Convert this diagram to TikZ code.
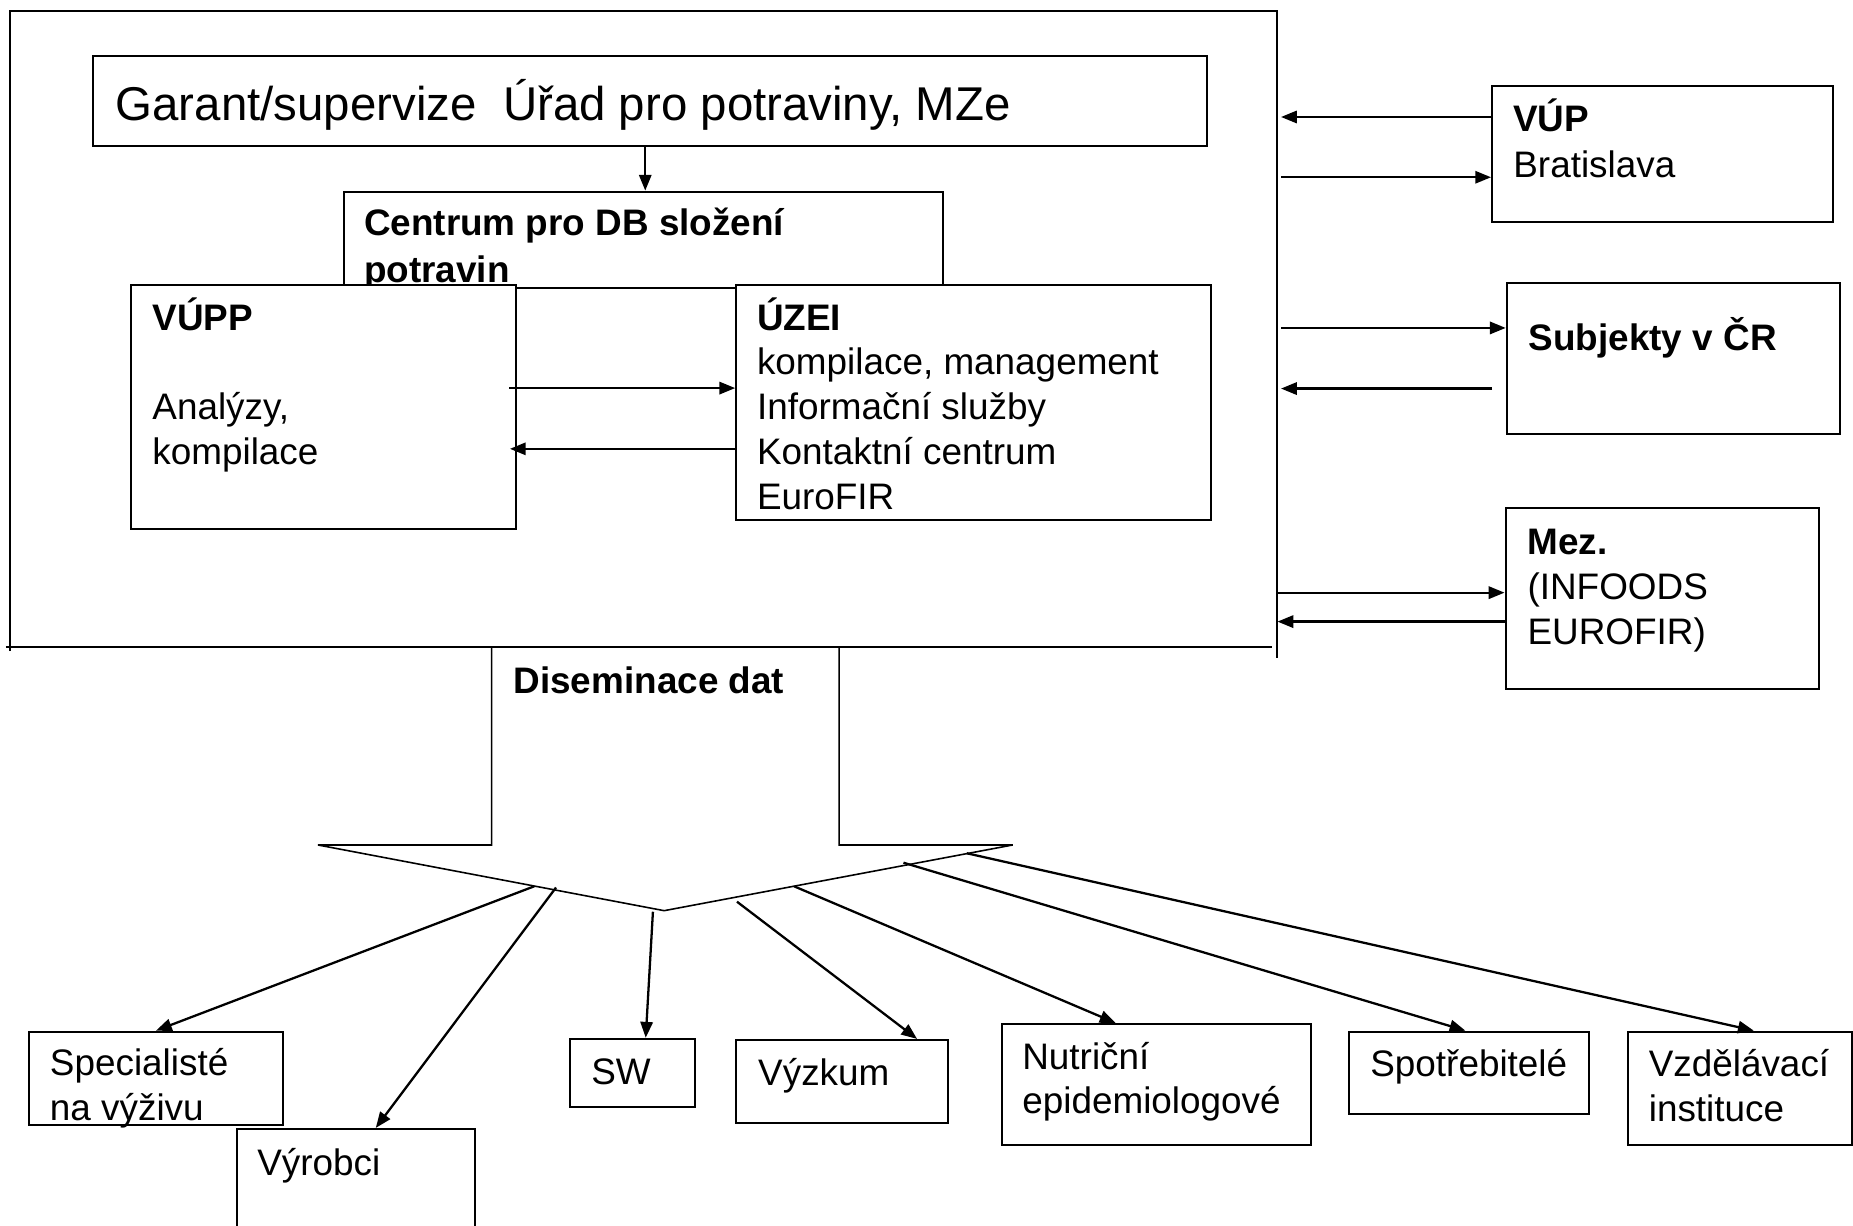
\documentclass[tikz,border=0pt]{standalone}
\usepackage{fontspec}
\setmainfont{Liberation Sans}
\usetikzlibrary{arrows.meta,fit}
\begin{document}
\begin{tikzpicture}[x=0.011818cm,y=-0.011818cm,
  box/.style={draw, line width=0.6pt, fill=white, inner sep=0pt},
  txt/.style={anchor=base west, inner sep=0pt, font=\fontsize{10.5}{12.6}\selectfont},
  btxt/.style={anchor=base west, inner sep=0pt, font=\fontsize{10.5}{12.6}\selectfont\bfseries},
  arr/.style={line width=0.65pt, -{Triangle[length=4.5pt,width=3.5pt]}},
  framel/.style={line width=0.55pt},
  blk/.style={line width=0.45pt, line join=miter}]

\fill[white] (0,0) rectangle (1568,1037);
\useasboundingbox (0,0) rectangle (1568,1037);

% outer frame
\coordinate (fTL) at (8.5,9);
\coordinate (fTR) at (1080.6,9);
\coordinate (fBR) at (1080.6,557);
\coordinate (fBL) at (8.5,551);
\draw[framel] (fBL) -- (fTL) -- (fTR) -- (fBR);
\coordinate (bL) at (5,547.5);
\coordinate (bR) at (1076,547.5);
\draw[framel] (bL) -- (bR);

% Garant
\node[box, fit={(78.4,47.7) (1021,123.5)}] (garant) {};
\node[anchor=base west, inner sep=0pt, font=\fontsize{13.5}{16}\selectfont] (tgarant) at (97.3,102) {Garant/supervize\ \ Úřad pro potraviny, MZe};

% Centrum
\node[box, fit={(291,162.2) (797.8,243.4)}] (centrum) {};
\node[btxt] (tcen1) at (307.5,199) {Centrum pro DB složení};
\node[btxt] (tcen2) at (307.5,239) {potravin};
\coordinate (xg) at (546,0);
\draw[arr] (garant.south -| xg) -- (centrum.north -| xg);

% VUPP and UZEI
\node[box, fit={(110.9,241) (436.4,447.7)}] (vupp) {};
\node[btxt] (tvupp1) at (128.4,280) {VÚPP};
\node[txt] (tvupp2) at (128.4,355) {Analýzy,};
\node[txt] (tvupp3) at (128.4,393) {kompilace};

\node[box, fit={(623,241) (1024.4,440.3)}] (uzei) {};
\node[btxt] (tuzei1) at (640,280) {ÚZEI};
\node[txt] (tuzei2) at (640,317) {kompilace, management};
\node[txt] (tuzei3) at (640,355) {Informační služby};
\node[txt] (tuzei4) at (640,393) {Kontaktní centrum};
\node[txt] (tuzei5) at (640,431) {EuroFIR};

\coordinate (a1s) at (431,328.4);
\draw[arr] (a1s) -- (uzei.west |- a1s);
\coordinate (a2e) at (431.5,379.8);
\draw[arr] (uzei.west |- a2e) -- (a2e);

% right side boxes
\node[box, fit={(1262.6,73) (1551,188)}] (vup) {};
\node[btxt] (tvup1) at (1280,111) {VÚP};
\node[txt] (tvup2) at (1280,150) {Bratislava};

\node[box, fit={(1275,239.5) (1557,367)}] (subj) {};
\node[btxt] (tsubj) at (1293,297) {Subjekty v ČR};

\node[box, fit={(1274,430) (1539,582.7)}] (mez) {};
\node[btxt] (tmez1) at (1292,469.5) {Mez.};
\node[txt] (tmez2) at (1292,507) {(INFOODS};
\node[txt] (tmez3) at (1292,545) {EUROFIR)};

\coordinate (r1) at (1084,99);
\draw[arr] (vup.west |- r1) -- (r1);
\coordinate (r2) at (1084,150);
\draw[arr] (r2) -- (vup.west |- r2);
\coordinate (r3) at (1084,277.5);
\draw[arr] (r3) -- (subj.west |- r3);
\coordinate (r4s) at (1262.6,328.8);
\coordinate (r4) at (1084,328.8);
\draw[arr] (r4s) -- (r4);
\coordinate (r5) at (1081,501.5);
\draw[arr] (r5) -- (mez.west |- r5);
\coordinate (r6) at (1081,526);
\draw[arr] (mez.west |- r6) -- (r6);

% block arrow
\coordinate (s1) at (416,547.5);
\coordinate (s2) at (416,715);
\coordinate (hl) at (269,715);
\coordinate (tip) at (562,770.6);
\coordinate (hr) at (857,715);
\coordinate (s3) at (710,715);
\coordinate (s4) at (710,547.5);
\draw[blk] (s1) -- (s2) -- (hl) -- (tip) -- (hr) -- (s3) -- (s4);
\node[btxt] (tdis) at (434,586.7) {Diseminace dat};

% bottom boxes
\node[box, fit={(24.5,873) (239.5,952)}] (spec) {};
\node[txt] (tspec1) at (41.7,910) {Specialisté};
\node[txt] (tspec2) at (41.7,948) {na výživu};

\node[box, fit={(200.8,955.3) (402,1045)}] (vyr) {};
\node[txt] (tvyr) at (217.2,994.3) {Výrobci};

\node[box, fit={(482.5,879) (588,936.7)}] (sw) {};
\node[txt] (tsw) at (499.8,918) {SW};

\node[box, fit={(622.8,880) (802,950.5)}] (vyz) {};
\node[txt] (tvyz) at (641,918.5) {Výzkum};

\node[box, fit={(848,866.5) (1109,969)}] (nut) {};
\node[txt] (tnut1) at (864.5,905.4) {Nutriční};
\node[txt] (tnut2) at (864.5,942) {epidemiologové};

\node[box, fit={(1141.5,873) (1344.6,942.6)}] (spo) {};
\node[txt] (tspo) at (1159,910.5) {Spotřebitelé};

\node[box, fit={(1377.6,873) (1566.8,969)}] (vzd) {};
\node[txt] (tvzd1) at (1394.6,910.5) {Vzdělávací};
\node[txt] (tvzd2) at (1394.6,949) {instituce};

% bottom arrows
\coordinate (h1) at (452,750);
\coordinate (h2) at (470.5,751);
\coordinate (h3) at (552.5,771.5);
\coordinate (h4) at (623.6,763);
\coordinate (h5) at (672,750);
\coordinate (h6) at (764.5,730);
\coordinate (h7) at (818,722);
\coordinate (e1) at (132,0);
\coordinate (e2) at (318,0);
\coordinate (e3) at (546.4,0);
\coordinate (e4) at (776,0);
\coordinate (e5) at (944,0);
\coordinate (e6) at (1240,0);
\coordinate (e7) at (1484,0);
\draw[arr] (h1) -- (spec.north -| e1);
\draw[arr] (h2) -- (vyr.north -| e2);
\draw[arr] (h3) -- (sw.north -| e3);
\draw[arr] (h4) -- (vyz.north -| e4);
\draw[arr] (h5) -- (nut.north -| e5);
\draw[arr] (h6) -- (spo.north -| e6);
\draw[arr] (h7) -- (vzd.north -| e7);
\end{tikzpicture}
\end{document}
